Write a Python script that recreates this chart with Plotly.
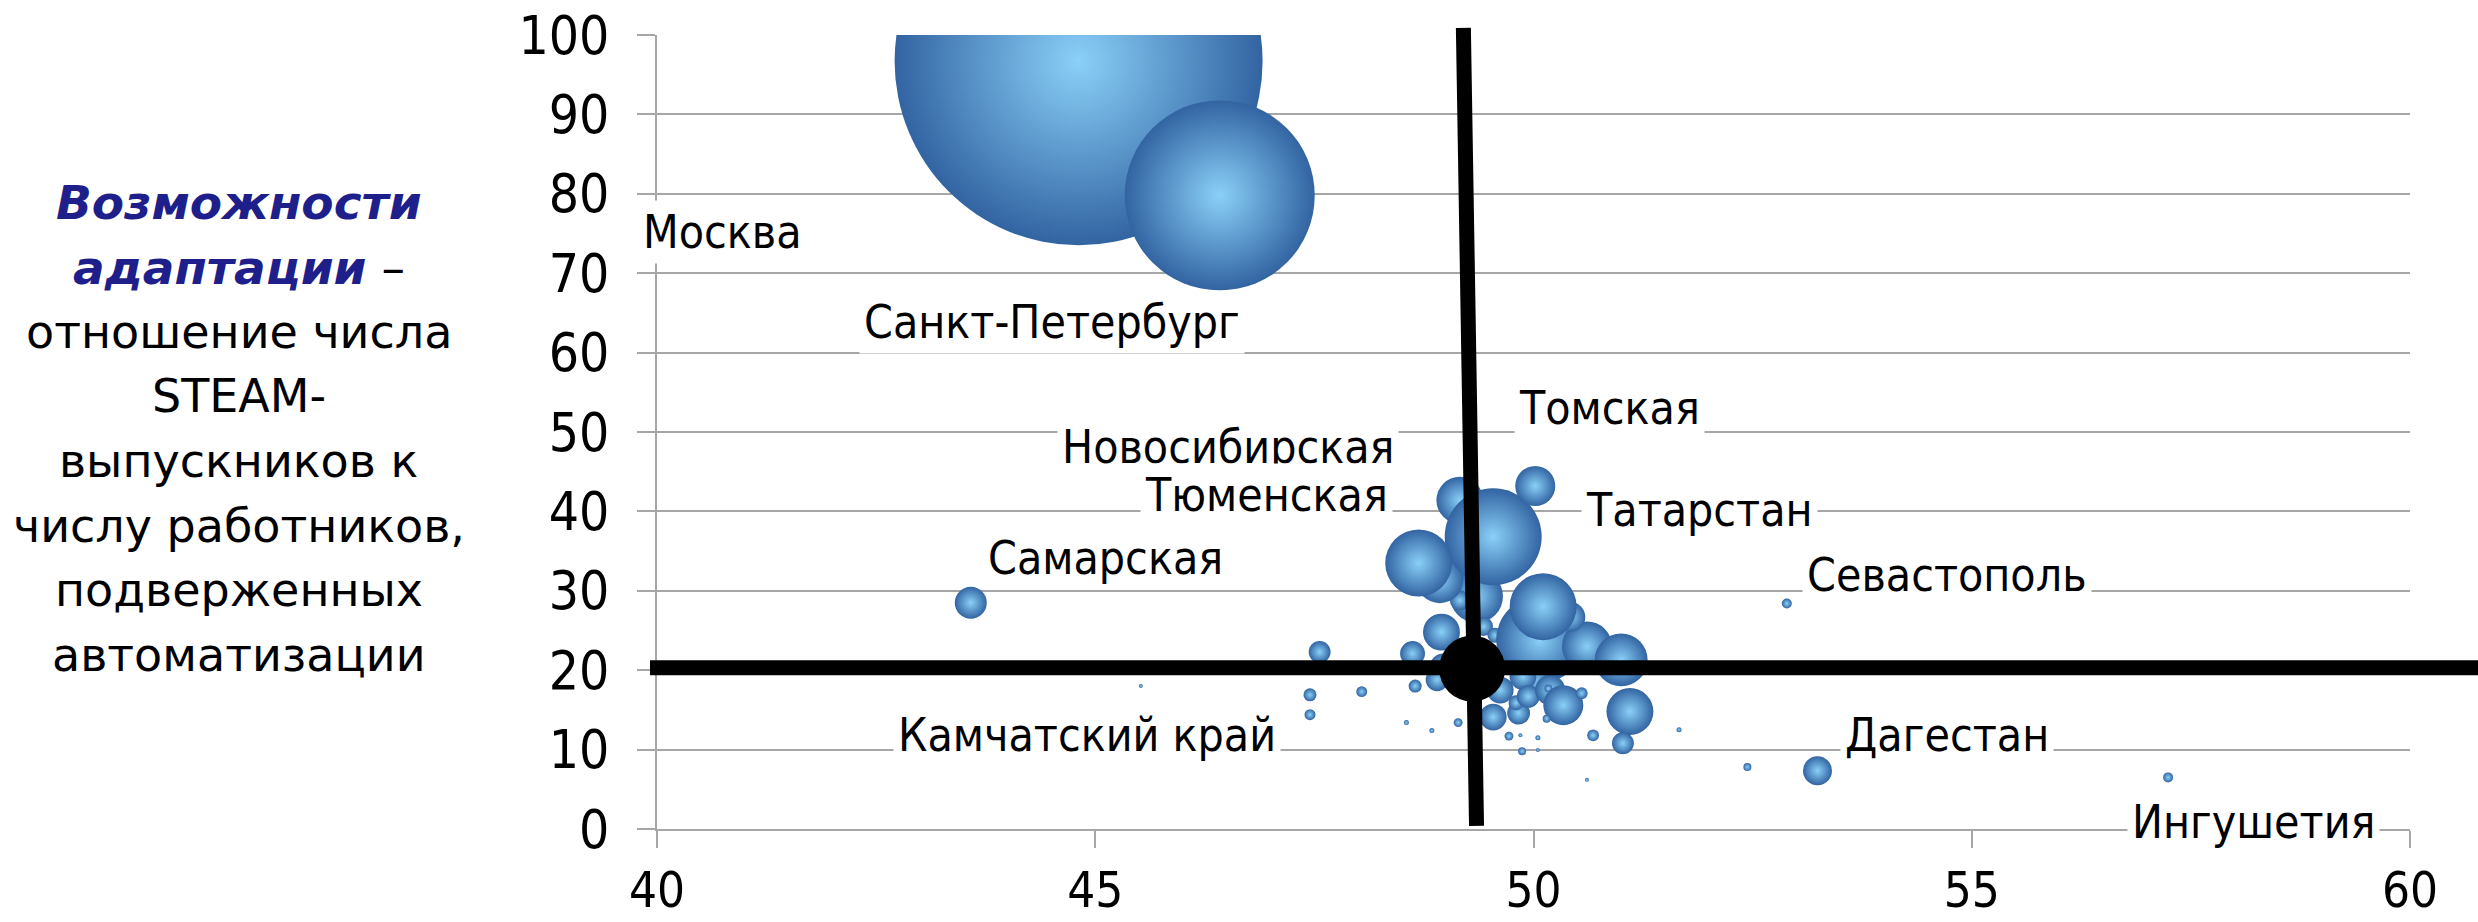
import plotly.graph_objects as go

# ---------------- data ----------------
# bubble centres: x = share of workers exposed to automation, y = adaptation capacity
bx = [44.81, 46.42, 43.58,
      49.16, 49.35, 49.16, 48.93, 49.54, 48.69, 50.02,
      48.95, 49.43, 49.56, 50.07, 50.61, 50.42, 50.11, 51.00,
      48.97, 48.90, 48.62, 47.56, 48.65, 47.45, 48.04, 47.45,
      48.55, 48.84, 49.14, 50.00, 49.88, 49.62, 49.54, 49.83,
      49.80, 49.94, 50.19, 50.17, 50.34, 50.55, 50.15, 51.10,
      51.02, 50.68, 51.66, 49.72, 49.87, 49.85, 50.05, 50.05,
      52.89, 53.24, 52.44, 57.24, 45.52, 50.61]
by = [96.7, 79.8, 28.5,
      41.4, 29.3, 28.8, 31.4, 36.8, 33.5, 43.2,
      24.8, 25.5, 24.4, 23.8, 23.0, 26.7, 28.0, 21.3,
      20.4, 18.8, 22.1, 22.3, 18.0, 16.9, 17.3, 14.4,
      13.4, 12.4, 13.4, 18.8, 19.2, 17.5, 14.1, 14.6,
      15.9, 16.7, 17.5, 17.7, 15.6, 17.1, 13.9, 14.8,
      10.8, 11.8, 12.5, 11.7, 9.8, 11.8, 11.5, 9.95,
      28.4, 7.35, 7.8, 6.5, 18.0, 6.2]
# bubble size value (area-proportional, arbitrary units ~ thousands of workers)
bsize = [6771, 1805, 51,
         110, 140, 20, 110, 470, 224, 80,
         68, 18, 11, 378, 125, 45, 224, 140,
         36, 26, 31, 24, 8.5, 8.5, 6, 6,
         1.25, 1.25, 4, 54, 36, 36, 36, 26,
         11, 26, 45, 3.2, 80, 7, 3.2, 110,
         24, 7, 1.25, 4, 3.2, 0.45, 1.25, 0.45,
         5, 42, 3.2, 5, 0.2, 0.2]

# Russian average (the black cross)
avg_x = 49.30
avg_y = 20.2

# region labels
label_text = ["Москва", "Санкт-Петербург", "Новосибирская", "Тюменская", "Томская",
              "Татарстан", "Самарская", "Севастополь", "Камчатский край",
              "Дагестан", "Ингушетия"]
label_x = [40.75, 44.51, 46.51, 46.95, 50.87, 51.89, 45.12, 54.72, 44.91, 54.72, 58.22]
label_y = [75.2, 63.9, 48.1, 42.1, 53.0, 40.2, 34.1, 32.0, 11.8, 11.8, 0.9]

x_ticks = [40, 45, 50, 55, 60]
y_ticks = [0, 10, 20, 30, 40, 50, 60, 70, 80, 90, 100]

title_lines = [
    "<b><i>Возможности</i></b>",
    "<b><i>адаптации</i></b><span style='color:black'> –</span>",
    "отношение числа",
    "STEAM-",
    "выпускников к",
    "числу работников,",
    "подверженных",
    "автоматизации",
]

# ---------------- figure ----------------
FONT = "DejaVu Sans Condensed"
TITLE_FONT = "DejaVu Sans"
GRID = "#A6A6A6"

fig = go.Figure()

fig.add_trace(go.Scatter(
    x=bx, y=by, mode="markers",
    marker=dict(
        size=bsize, sizemode="area", sizeref=0.1, sizemin=2,
        color="#3264A2",
        gradient=dict(type="radial", color="#8AD0F8"),
        line=dict(width=0),
        opacity=1,
    ),
    cliponaxis=True,
    hoverinfo="skip",
))

# black cross for the average
fig.add_shape(type="line", xref="paper", yref="y",
              x0=-0.004, x1=1.05, y0=avg_y + 0.1, y1=avg_y + 0.1,
              line=dict(color="black", width=15), layer="above")
fig.add_shape(type="line", xref="x", yref="y domain",
              x0=avg_x - 0.1, x1=avg_x + 0.05, y0=1.009, y1=0.004,
              line=dict(color="black", width=15), layer="above")
fig.add_shape(type="circle", xref="x", yref="y",
              xsizemode="pixel", ysizemode="pixel",
              xanchor=avg_x, yanchor=avg_y,
              x0=-33, x1=33, y0=-33, y1=33,
              fillcolor="black", line=dict(color="black", width=0), layer="above")

# region labels with white boxes
for t, lx, ly in zip(label_text, label_x, label_y):
    fig.add_annotation(x=lx, y=ly, xref="x", yref="y", text=t, showarrow=False,
                       xanchor="center", yanchor="middle",
                       font=dict(family=FONT, size=46, color="black"),
                       bgcolor="white", borderpad=4)

# y-axis title block (left)
title_top = 0.789
title_step = 0.0814
for i, line in enumerate(title_lines):
    fig.add_annotation(x=-0.2385, y=title_top - i * title_step, xref="paper", yref="paper",
                       text=line, showarrow=False, xanchor="center", yanchor="middle",
                       font=dict(family=TITLE_FONT, size=47 if i < 2 else 46,
                                 color="#1F1F8C" if i < 2 else "black"))

fig.update_layout(
    width=2478, height=922,
    margin=dict(l=657, r=68, t=35, b=93, autoexpand=False),
    paper_bgcolor="white", plot_bgcolor="white",
    showlegend=False,
    xaxis=dict(range=[40, 60], tickvals=x_ticks, showgrid=False, zeroline=False,
               automargin=False,
               showline=True, linecolor=GRID, linewidth=2,
               ticks="outside", ticklen=17, tickwidth=2, tickcolor=GRID,
               tickfont=dict(family=FONT, size=49, color="black"),
               ticklabelstandoff=0),
    yaxis=dict(range=[0, 100], tickvals=y_ticks, showgrid=True, gridcolor=GRID, gridwidth=2,
               automargin=False,
               zeroline=False, showline=True, linecolor=GRID, linewidth=2,
               ticks="outside", ticklen=18, tickwidth=2, tickcolor=GRID,
               tickfont=dict(family=FONT, size=53, color="black"),
               ticklabelstandoff=17),
)

fig.write_html("out.html", config={"displayModeBar": False})
